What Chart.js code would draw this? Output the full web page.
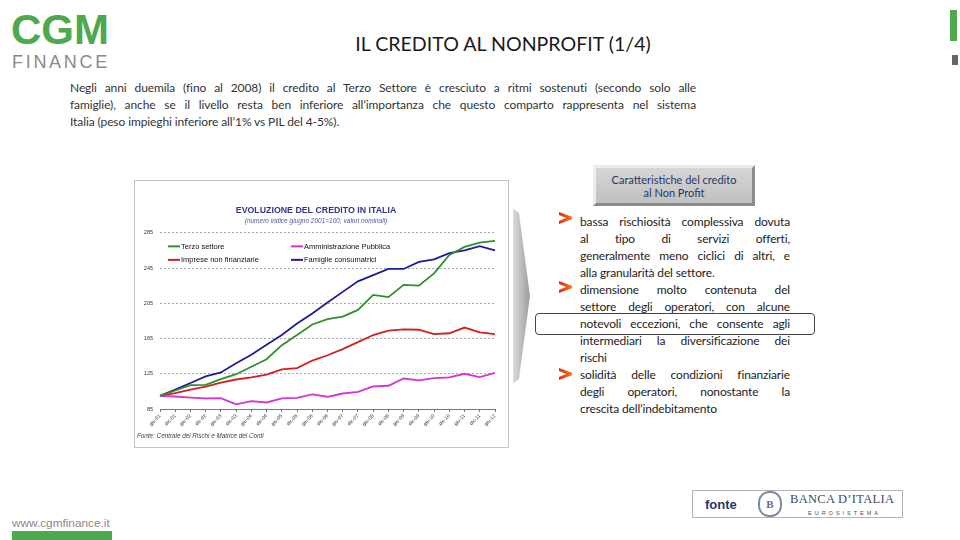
<!DOCTYPE html>
<html lang="it">
<head>
<meta charset="utf-8">
<title>Il credito al nonprofit (1/4)</title>
<script src="https://cdn.jsdelivr.net/npm/chart.js@4.4.1/dist/chart.umd.min.js"></script>
<style>
  html, body { margin: 0; padding: 0; }
  body { width: 960px; height: 540px; position: relative; overflow: hidden; background: #fff;
         font-family: Lato, "Open Sans", sans-serif; color: #333; }
  .abs { position: absolute; }
  .logo-cgm { left: 11px; top: 9px; font: bold 42px/42px "Liberation Sans", Arial, sans-serif; color: #4ea84e; }
  .logo-fin { left: 12px; top: 52.5px; font: 18px/18px "Liberation Sans", Arial, sans-serif; color: #8a8a8a; letter-spacing: 2.7px; }
  .title { left: 303px; top: 32px; width: 400px; text-align: center; font-size: 19.6px; color: #1a1a1a; }
  .para { left: 70px; top: 79px; width: 626px; font-size: 12px; letter-spacing: -0.1px; line-height: 17px; color: #333; }
  .j { text-align: justify; text-align-last: justify; height: 17px; }
  .nj { height: 17px; }
  .chartbox { left: 134px; top: 180px; width: 375px; height: 268px; border: 1px solid #c4c4c4; box-sizing: border-box; background: #fff; }
  .chartbox canvas { position: absolute; left: 0; top: 0; }
  .source { left: 137px; top: 432px; font: italic 6.3px "Liberation Sans", Arial, sans-serif; color: #444; }
  .capbox { left: 593px; top: 165px; width: 162px; height: 41px; box-sizing: border-box;
            background: linear-gradient(#d6d6d6, #c0c0c0); border: 3px solid; border-color: #ececec #8c8c8c #8c8c8c #ececec;
            text-align: center; font-size: 11px; line-height: 13px; color: #1f3864; padding-top: 5px; }
  .bigarrow { left: 513px; top: 208px; width: 17px; height: 176px;
              background: linear-gradient(to right, #dcdcdc, #9c9c9c);
              clip-path: polygon(0 0, 35% 3%, 100% 50%, 35% 97%, 0 100%); }
  .chev { width: 13px; height: 12px; background: linear-gradient(to right, #e02a10, #f27a22);
          clip-path: polygon(0 0, 100% 40%, 100% 60%, 0 100%, 0 74%, 55% 50%, 0 26%); }
  .bullets { left: 580px; width: 210px; font-size: 12px; letter-spacing: -0.15px; line-height: 17px; color: #222; }
  .hl { left: 535px; top: 313px; width: 280px; height: 22px; box-sizing: border-box; border: 1px solid #444; border-radius: 4px; }
  .fonte { left: 692px; top: 490px; width: 211px; height: 28px; box-sizing: border-box; border: 1px solid #b4b4b4; }
  .fonte-t { left: 705px; top: 497px; font: bold 13px "Liberation Sans", Arial, sans-serif; color: #1f3864; }
  .emb { left: 758px; top: 491px; width: 24px; height: 26px; box-sizing: border-box; border: 2px double #7a8aa0; border-radius: 45%;
         font: bold 11px "Liberation Serif", serif; color: #5a6a80; text-align: center; line-height: 22px; }
  .bdi { left: 790px; top: 492px; font: 12.5px "Liberation Serif", serif; color: #3b4c66; letter-spacing: 0.3px; }
  .euro { left: 808px; top: 510px; font: 5.5px "Liberation Sans", Arial, sans-serif; color: #3b4c66; letter-spacing: 3px; }
  .www { left: 12px; top: 516px; font: 11.8px "Liberation Sans", Arial, sans-serif; color: #8a8a8a; }
  .wwwbar { left: 12px; top: 531px; width: 100px; height: 9px; background: #4ea84e; }
  .gbar { left: 950px; top: 10px; width: 7px; height: 31px; background: #4ea84e; }
  .gsq { left: 952px; top: 55px; width: 6px; height: 10px; background: #666; }
</style>
</head>
<body>
<div class="abs logo-cgm">CGM</div>
<div class="abs logo-fin">FINANCE</div>
<div class="abs gbar"></div>
<div class="abs gsq"></div>

<div class="abs title">IL CREDITO AL NONPROFIT (1/4)</div>

<div class="abs para">
  <div class="j">Negli anni duemila (fino al 2008) il credito al Terzo Settore è cresciuto a ritmi sostenuti (secondo solo alle</div>
  <div class="j">famiglie), anche se il livello resta ben inferiore all’importanza che questo comparto rappresenta nel sistema</div>
  <div class="nj">Italia (peso impieghi inferiore all’1% vs PIL del 4-5%).</div>
</div>

<div class="abs chartbox">
  <canvas id="credito" width="373" height="266"></canvas>
</div>
<div class="abs source">Fonte: Centrale dei Rischi e Matrice dei Conti</div>

<div class="abs capbox">Caratteristiche del credito<br>al Non Profit</div>
<div class="abs bigarrow"></div>

<div class="abs chev" style="left:559px; top:212px;"></div>
<div class="abs chev" style="left:559px; top:281px;"></div>
<div class="abs chev" style="left:559px; top:368px;"></div>

<div class="abs bullets" style="top:213px;">
  <div class="j">bassa rischiosità complessiva dovuta</div>
  <div class="j">al tipo di servizi offerti,</div>
  <div class="j">generalmente meno ciclici di altri, e</div>
  <div class="nj">alla granularità del settore.</div>
  <div class="j">dimensione molto contenuta del</div>
  <div class="j">settore degli operatori, con alcune</div>
  <div class="j">notevoli eccezioni, che consente agli</div>
  <div class="j">intermediari la diversificazione dei</div>
  <div class="nj">rischi</div>
  <div class="j">solidità delle condizioni finanziarie</div>
  <div class="j">degli operatori, nonostante la</div>
  <div class="nj">crescita dell’indebitamento</div>
</div>
<div class="abs hl"></div>

<div class="abs fonte"></div>
<div class="abs fonte-t">fonte</div>
<div class="abs emb">B</div>
<div class="abs bdi">BANCA D’ITALIA</div>
<div class="abs euro">EUROSISTEMA</div>

<div class="abs www">www.cgmfinance.it</div>
<div class="abs wwwbar"></div>

<script>
// semestri giugno 2001 - giugno 2012
const periods = ['giu-01', 'dic-01', 'giu-02', 'dic-02', 'giu-03', 'dic-03', 'giu-04', 'dic-04',
  'giu-05', 'dic-05', 'giu-06', 'dic-06', 'giu-07', 'dic-07', 'giu-08', 'dic-08',
  'giu-09', 'dic-09', 'giu-10', 'dic-10', 'giu-11', 'dic-11', 'giu-12'];

// numero indice giugno 2001 = 100
const terzoSettore = [100, 106, 112, 112.5, 119, 124.5, 133, 141.5, 157.5, 169, 181, 187,
  190, 197.5, 214.5, 212, 226, 225, 239, 260, 269, 274, 276];
const amministrazionePubblica = [100, 99.2, 98, 97, 97.3, 90.2, 93.9, 92.4, 97, 97.7, 101.5, 98.9,
  102.6, 104.5, 110.7, 111.4, 119.6, 117.6, 120, 121, 125, 121.3, 126];
const impreseNonFinanziarie = [100, 103, 107, 110.5, 115, 118.5, 121, 124, 130, 131.5, 140, 146,
  153, 161, 169, 174, 175.5, 175, 170, 171, 177.5, 172, 170];
const famiglieConsumatrici = [100, 107, 114.5, 122, 126.5, 137, 146.5, 158, 169, 182, 193.5, 206,
  218, 230, 237, 244, 244, 252, 255, 262, 265, 270, 265];

const yTicks = [85, 125, 165, 205, 245, 285];

// legenda a due colonne dentro l'area del grafico
const insideLegend = {
  id: 'insideLegend',
  afterDatasetsDraw(chart) {
    const { ctx, chartArea } = chart;
    ctx.save();
    ctx.font = '7.5px "Liberation Sans", Arial, sans-serif';
    ctx.textBaseline = 'middle';
    chart.data.datasets.forEach((ds, i) => {
      const x = chartArea.left + 8 + (i % 2) * 123;
      const y = chartArea.top + 13.5 + Math.floor(i / 2) * 13.5;
      ctx.strokeStyle = ds.borderColor;
      ctx.lineWidth = 2;
      ctx.beginPath();
      ctx.moveTo(x, y);
      ctx.lineTo(x + 12, y);
      ctx.stroke();
      ctx.fillStyle = '#111';
      ctx.fillText(ds.label, x + 13, y + 0.5);
    });
    ctx.restore();
  }
};

const series = (label, data, color) => ({
  label, data,
  borderColor: color,
  backgroundColor: color,
  borderWidth: 1.8,
  pointRadius: 0,
  tension: 0,
  fill: false,
});

new Chart(document.getElementById('credito'), {
  type: 'line',
  data: {
    labels: periods,
    datasets: [
      series('Terzo settore', terzoSettore, '#2f8f2f'),
      series('Amministrazione Pubblica', amministrazionePubblica, '#d633d6'),
      series('Imprese non finanziarie', impreseNonFinanziarie, '#d42020'),
      series('Famiglie consumatrici', famiglieConsumatrici, '#1c1c9c'),
    ],
  },
  options: {
    responsive: false,
    animation: false,
    devicePixelRatio: 1,
    layout: { padding: { left: 2, right: 13, top: 0, bottom: 14 } },
    plugins: {
      legend: { display: false },
      tooltip: { enabled: false },
      title: {
        display: true,
        text: 'EVOLUZIONE DEL CREDITO IN ITALIA',
        color: '#34348a',
        font: { family: '"Liberation Sans", Arial, sans-serif', size: 8.8, weight: 'bold' },
        padding: { top: 24, bottom: 1 },
      },
      subtitle: {
        display: true,
        text: '(numero indice giugno 2001=100; valori nominali)',
        color: '#4a5aa8',
        font: { family: '"Liberation Sans", Arial, sans-serif', size: 6.5, style: 'italic' },
        padding: { top: 1, bottom: 7.5 },
      },
    },
    scales: {
      x: {
        offset: false,
        afterFit: s => { s.height = 24; },
        grid: { drawOnChartArea: false, drawTicks: true, tickLength: 3, color: '#777' },
        border: { display: true, color: '#777', width: 1 },
        ticks: {
          autoSkip: false, minRotation: 45, maxRotation: 45, padding: 1,
          color: '#333', font: { family: '"Liberation Sans", Arial, sans-serif', size: 5 },
        },
      },
      y: {
        min: 85,
        max: 285,
        afterFit: s => { s.width = 23; },
        afterBuildTicks: s => { s.ticks = yTicks.map(v => ({ value: v })); },
        grid: { color: '#a8a8a8', lineWidth: 1, drawTicks: false },
        border: { display: false, dash: [2, 2] },
        ticks: {
          padding: 7, color: '#333',
          font: { family: '"Liberation Sans", Arial, sans-serif', size: 5.5 },
        },
      },
    },
  },
  plugins: [insideLegend],
});
</script>
</body>
</html>
